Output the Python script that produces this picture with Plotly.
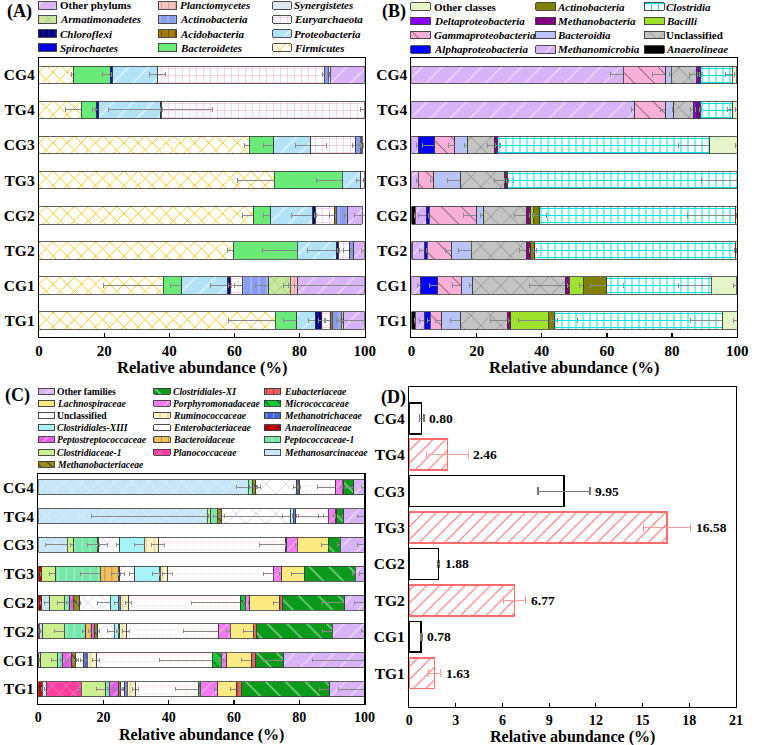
import plotly.graph_objects as go

W, H = 760, 745
FONT = "Liberation Serif"
CATS = ["TG1", "CG1", "TG2", "CG2", "TG3", "CG3", "TG4", "CG4"]

# ---------------- Panel A : phyla (order TG1, CG1, TG2, CG2, TG3, CG3, TG4, CG4)
a_firmicutes = [72.5, 38.2, 59.7, 66.0, 72.2, 64.5, 13.0, 10.6]
a_bacteroidetes = [6.7, 5.7, 19.6, 5.2, 20.9, 7.5, 4.8, 11.3]
a_spirochaetes = [0, 0, 0, 0, 0, 0, 0.5, 0.8]
a_proteobacteria = [5.6, 13.9, 12.0, 12.9, 5.5, 11.5, 19.0, 13.7]
a_chloroflexi = [2.0, 0.9, 0.6, 0.7, 0, 0, 0.3, 0]
a_euryarchaeota = [2.8, 3.8, 3.5, 6.0, 1.4, 13.8, 62.4, 51.2]
a_acidobacteria = [0.5, 0, 0, 0.4, 0, 0, 0, 0]
a_actinobacteria = [2.7, 8.0, 1.2, 3.6, 0, 1.3, 0, 1.2]
a_armatimonadetes = [0.8, 6.7, 0, 0, 0, 0, 0, 0]
a_planctomycetes = [0, 2.3, 0, 0, 0, 0, 0, 0]
a_synergistetes = [0, 0, 0, 0, 0, 0.3, 0, 0.6]
a_other = [6.4, 20.5, 3.4, 4.5, 0, 0.4, 0, 10.6]

a_firmicutes_sd = [14.3, 18.5, 1.9, 3.5, 11.2, 1.5, 5.0, 0.6]
a_bacteroidetes_sd = [4.0, 3.5, 10.8, 2.3, 8.0, 3.1, 1.5, 2.5]
a_spirochaetes_sd = [0, 0, 0, 0, 0, 0, 1.0, 0.3]
a_proteobacteria_sd = [2.0, 5.0, 9.0, 6.6, 1.0, 4.7, 16.0, 2.4]
a_chloroflexi_sd = [1.0, 0.5, 0.3, 0.3, 0, 0, 0.3, 0]
a_euryarchaeota_sd = [1.5, 2.5, 2.0, 1.5, 0.5, 1.0, 1.4, 0.5]
a_acidobacteria_sd = [0.3, 0, 0, 0.2, 0, 0, 0, 0]
a_actinobacteria_sd = [1.5, 4.0, 1.0, 1.0, 0, 0.5, 0, 0.3]
a_armatimonadetes_sd = [0.5, 2.0, 0, 0, 0, 0, 0, 0]
a_planctomycetes_sd = [0, 3.0, 0, 0, 0, 0, 0, 0]
a_synergistetes_sd = [0, 0, 0, 0, 0, 0.3, 0, 0.2]
a_other_sd = [8.0, 21.7, 1.0, 2.5, 0, 0.3, 0, 0]

# ---------------- Panel B : classes
b_anaerolineae = [1.1, 0, 0.3, 1.1, 0, 0, 0, 0]
b_methanomicrobia = [3.0, 2.8, 3.8, 3.5, 2.0, 2.1, 68.5, 65.0]
b_alphaproteobacteria = [1.7, 5.3, 0.7, 0.9, 0, 5.0, 0, 0]
b_gammaproteobacteria = [3.5, 7.4, 7.5, 14.6, 4.8, 6.2, 9.5, 13.0]
b_bacteroidia = [5.8, 3.3, 6.1, 2.1, 8.3, 3.9, 2.5, 1.7]
b_unclassified = [14.3, 28.4, 16.8, 13.0, 13.3, 8.2, 6.1, 7.7]
b_deltaproteobacteria = [0, 0, 0, 0, 0.5, 0, 1.0, 0.7]
b_methanobacteria = [1.0, 1.2, 1.4, 1.4, 0.5, 1.0, 1.0, 0.5]
b_bacilli = [11.6, 4.3, 0, 0.8, 0, 0, 0, 0]
b_actinobacteria = [1.9, 7.3, 1.3, 2.0, 0, 0, 0, 0]
b_clostridia = [51.7, 32.0, 61.7, 60.2, 70.6, 65.2, 10.0, 9.8]
b_other = [4.4, 7.9, 0.4, 0.4, 0, 8.4, 1.4, 1.4]

b_anaerolineae_sd = [0.3, 0, 0.1, 0.3, 0, 0, 0, 0]
b_methanomicrobia_sd = [1.5, 1.0, 1.5, 2.5, 0.5, 0.5, 1.0, 4.0]
b_alphaproteobacteria_sd = [1.0, 2.5, 0.3, 0.3, 0, 3.8, 0, 0]
b_gammaproteobacteria_sd = [2.0, 3.0, 2.0, 4.0, 1.0, 2.0, 1.5, 4.0]
b_bacteroidia_sd = [3.0, 1.0, 4.0, 1.0, 4.0, 1.0, 0.5, 0.5]
b_unclassified_sd = [5.0, 11.0, 2.0, 3.5, 3.0, 2.0, 1.0, 2.0]
b_deltaproteobacteria_sd = [0, 0, 0, 0, 0.3, 0, 0.3, 0.3]
b_methanobacteria_sd = [0.5, 0.5, 0.5, 0.5, 0.3, 0.5, 0.3, 0.3]
b_bacilli_sd = [9.0, 1.0, 0, 0.3, 0, 0, 0, 0]
b_actinobacteria_sd = [1.0, 5.0, 0.5, 2.0, 0, 0, 0, 0]
b_clostridia_sd = [10.0, 10.0, 0.5, 15.0, 11.0, 9.5, 1.5, 2.0]
b_other_sd = [1.0, 1.0, 0.2, 0.2, 0, 0.5, 0.5, 0.5]

# ---------------- Panel C : families
c_anaerolineaceae = [1.2, 0.2, 0.3, 1.0, 1.0, 0, 0, 0]
c_methanosarcinaceae = [1.3, 0.5, 1.0, 2.5, 0, 8.8, 51.8, 64.4]
c_planococcaceae = [10.7, 0, 0, 0, 0, 0, 0, 0]
c_clostridiaceae1 = [7.5, 5.3, 6.7, 4.5, 4.3, 2.0, 1.0, 0]
c_peptococcaceae1 = [1.0, 1.3, 6.5, 1.7, 13.7, 7.4, 2.0, 1.4]
c_bacteroidaceae = [0, 0, 1.8, 0, 5.5, 0, 0, 0]
c_peptostreptococcaceae = [3.0, 3.0, 1.0, 1.0, 0, 0, 0, 0]
c_methanobacteriaceae = [0.6, 1.0, 0.9, 1.8, 0.5, 0.4, 1.3, 0.8]
c_enterobacteriaceae = [1.2, 2.7, 5.1, 9.5, 4.6, 6.4, 21.3, 12.6]
c_clostridiales13 = [0, 0, 1.2, 2.5, 7.5, 7.5, 0.8, 0]
c_methanotrichaceae = [0.8, 1.0, 0.5, 0.7, 0.3, 0, 0.7, 0.5]
c_ruminococcaceae = [2.5, 2.7, 1.9, 2.4, 2.2, 4.3, 0, 0.5]
c_unclassified = [19.4, 35.6, 28.5, 34.5, 32.4, 39.0, 10.0, 11.0]
c_micrococcaceae = [0.5, 2.8, 0, 1.3, 0, 0.4, 0, 0]
c_porphyromonadaceae = [5.3, 1.7, 3.4, 1.4, 2.6, 3.2, 2.1, 2.0]
c_lachnospiraceae = [5.8, 7.5, 7.1, 9.3, 6.9, 9.5, 0, 0.5]
c_eubacteriaceae = [1.4, 1.3, 1.0, 0.7, 0, 0, 0.5, 0]
c_clostridiales11 = [27.1, 8.6, 23.2, 19.2, 15.7, 3.7, 2.2, 3.0]
c_other = [10.6, 24.8, 9.9, 6.0, 2.8, 7.3, 6.3, 3.3]

c_anaerolineaceae_sd = [0.2, 0.1, 0.1, 0.2, 0.2, 0, 0, 0]
c_methanosarcinaceae_sd = [0.5, 0.3, 0.5, 1.5, 0, 6.5, 35.5, 3.6]
c_planococcaceae_sd = [1.0, 0, 0, 0, 0, 0, 0, 0]
c_clostridiaceae1_sd = [3.0, 2.0, 3.0, 2.0, 2.0, 1.0, 0.5, 0]
c_peptococcaceae1_sd = [0.5, 0.5, 1.0, 1.0, 6.0, 3.0, 1.0, 1.0]
c_bacteroidaceae_sd = [0, 0, 1.0, 0, 2.0, 0, 0, 0]
c_peptostreptococcaceae_sd = [1.5, 2.0, 0.5, 0.5, 0, 0, 0, 0]
c_methanobacteriaceae_sd = [0.5, 0.5, 0.5, 0.5, 0.3, 0.3, 1.0, 0.5]
c_enterobacteriaceae_sd = [0.5, 1.0, 2.0, 4.0, 1.5, 1.0, 2.5, 1.0]
c_clostridiales13_sd = [0, 0, 0.5, 1.0, 2.0, 3.0, 0.3, 0]
c_methanotrichaceae_sd = [0.3, 0.5, 0.3, 0.3, 0.2, 0, 0.3, 0.3]
c_ruminococcaceae_sd = [1.0, 1.0, 1.0, 1.0, 1.5, 2.0, 0, 0.3]
c_unclassified_sd = [7.0, 16.0, 11.0, 15.0, 3.0, 8.0, 3.0, 5.5]
c_micrococcaceae_sd = [0.3, 1.0, 0, 0.5, 0, 0.3, 0, 0]
c_porphyromonadaceae_sd = [1.0, 1.0, 1.0, 0.5, 0.5, 0.5, 0.5, 0.5]
c_lachnospiraceae_sd = [2.0, 3.0, 3.0, 2.0, 4.0, 2.0, 0, 0.3]
c_eubacteriaceae_sd = [0.5, 0.5, 0.5, 0.3, 0, 0, 0.3, 0]
c_clostridiales11_sd = [3.0, 6.0, 3.0, 7.0, 1.0, 1.0, 0.5, 2.5]
c_other_sd = [8.0, 16.0, 1.0, 3.0, 1.5, 2.0, 2.0, 1.0]

# ---------------- Panel D
d_values = [1.63, 0.78, 6.77, 1.88, 16.58, 9.95, 2.46, 0.80]
d_sd = [0.39, 0.05, 0.72, 0.08, 1.50, 1.67, 1.33, 0.16]

# ---------------- series lists (stacking order)
A_SERIES = [
    ("Firmicutes", a_firmicutes, a_firmicutes_sd),
    ("Bacteroidetes", a_bacteroidetes, a_bacteroidetes_sd),
    ("Spirochaetes", a_spirochaetes, a_spirochaetes_sd),
    ("Proteobacteria", a_proteobacteria, a_proteobacteria_sd),
    ("Chloroflexi", a_chloroflexi, a_chloroflexi_sd),
    ("Euryarchaeota", a_euryarchaeota, a_euryarchaeota_sd),
    ("Acidobacteria", a_acidobacteria, a_acidobacteria_sd),
    ("Actinobacteria", a_actinobacteria, a_actinobacteria_sd),
    ("Armatimonadetes", a_armatimonadetes, a_armatimonadetes_sd),
    ("Planctomycetes", a_planctomycetes, a_planctomycetes_sd),
    ("Synergistetes", a_synergistetes, a_synergistetes_sd),
    ("Other phylums", a_other, a_other_sd),
]
B_SERIES = [
    ("Anaerolineae", b_anaerolineae, b_anaerolineae_sd),
    ("Methanomicrobia", b_methanomicrobia, b_methanomicrobia_sd),
    ("Alphaproteobacteria", b_alphaproteobacteria, b_alphaproteobacteria_sd),
    ("Gammaproteobacteria", b_gammaproteobacteria, b_gammaproteobacteria_sd),
    ("Bacteroidia", b_bacteroidia, b_bacteroidia_sd),
    ("Unclassified", b_unclassified, b_unclassified_sd),
    ("Deltaproteobacteria", b_deltaproteobacteria, b_deltaproteobacteria_sd),
    ("Methanobacteria", b_methanobacteria, b_methanobacteria_sd),
    ("Bacilli", b_bacilli, b_bacilli_sd),
    ("Actinobacteria", b_actinobacteria, b_actinobacteria_sd),
    ("Clostridia", b_clostridia, b_clostridia_sd),
    ("Other classes", b_other, b_other_sd),
]
C_SERIES = [
    ("Anaerolineaceae", c_anaerolineaceae, c_anaerolineaceae_sd),
    ("Methanosarcinaceae", c_methanosarcinaceae, c_methanosarcinaceae_sd),
    ("Planococcaceae", c_planococcaceae, c_planococcaceae_sd),
    ("Clostridiaceae-1", c_clostridiaceae1, c_clostridiaceae1_sd),
    ("Peptococcaceae-1", c_peptococcaceae1, c_peptococcaceae1_sd),
    ("Bacteroidaceae", c_bacteroidaceae, c_bacteroidaceae_sd),
    ("Peptostreptococcaceae", c_peptostreptococcaceae, c_peptostreptococcaceae_sd),
    ("Methanobacteriaceae", c_methanobacteriaceae, c_methanobacteriaceae_sd),
    ("Enterobacteriaceae", c_enterobacteriaceae, c_enterobacteriaceae_sd),
    ("Clostridiales-XIII", c_clostridiales13, c_clostridiales13_sd),
    ("Methanotrichaceae", c_methanotrichaceae, c_methanotrichaceae_sd),
    ("Ruminococcaceae", c_ruminococcaceae, c_ruminococcaceae_sd),
    ("Unclassified", c_unclassified, c_unclassified_sd),
    ("Micrococcaceae", c_micrococcaceae, c_micrococcaceae_sd),
    ("Porphyromonadaceae", c_porphyromonadaceae, c_porphyromonadaceae_sd),
    ("Lachnospiraceae", c_lachnospiraceae, c_lachnospiraceae_sd),
    ("Eubacteriaceae", c_eubacteriaceae, c_eubacteriaceae_sd),
    ("Clostridiales-XI", c_clostridiales11, c_clostridiales11_sd),
    ("Other families", c_other, c_other_sd),
]

# ---------------- styles: (bg, shape, fg, size, solidity)
CLEAR = "rgba(255,255,255,0)"
A_STYLE = {
    "Firmicutes": (CLEAR, "x", "#f5c000", 10, 0.17),
    "Bacteroidetes": ("#6aea78", "", None, 8, 0.2),
    "Spirochaetes": ("#0000e6", "x", "#0000a0", 8, 0.15),
    "Proteobacteria": ("#b2e2f6", "/", "#e6f6fd", 14, 0.1),
    "Chloroflexi": ("#00007a", "|", "#1a1aa0", 6, 0.2),
    "Euryarchaeota": (CLEAR, "+", "#f7a8cf", 7, 0.14),
    "Acidobacteria": ("#a67c00", "|", "#6a5000", 7, 0.15),
    "Actinobacteria": ("#8a9cf0", "|", "#b5c0f7", 8, 0.15),
    "Armatimonadetes": ("#c9e79f", "x", "#8cb85e", 9, 0.12),
    "Planctomycetes": ("#f6c4c0", "|", "#e79a9a", 7, 0.15),
    "Synergistetes": ("#dde8ef", "", None, 8, 0.2),
    "Other phylums": ("#d9b3f7", "/", "#eddcfb", 14, 0.1),
}
B_STYLE = {
    "Anaerolineae": ("#000000", "", None, 8, 0.2),
    "Methanomicrobia": ("#d9b3f7", "/", "#eddcfb", 14, 0.1),
    "Alphaproteobacteria": ("#0000ff", "", None, 8, 0.2),
    "Gammaproteobacteria": ("#f8b0d8", "\\", "#6a4a5a", 14, 0.07),
    "Bacteroidia": ("#b9c3f5", "", None, 8, 0.2),
    "Unclassified": ("#c4c4c4", "x", "#555555", 14, 0.06),
    "Deltaproteobacteria": ("#8a00ff", "", None, 8, 0.2),
    "Methanobacteria": ("#800080", "", None, 8, 0.2),
    "Bacilli": ("#9fe22e", "", None, 8, 0.2),
    "Actinobacteria": ("#808000", "", None, 8, 0.2),
    "Clostridia": (CLEAR, "+", "#00e1ec", 7, 0.28),
    "Other classes": ("#e6f5c7", "", None, 8, 0.2),
}
C_STYLE = {
    "Anaerolineaceae": ("#cc0000", "/", "#7a0000", 8, 0.15),
    "Methanosarcinaceae": ("#c6e6f7", "x", "#e6f4fc", 12, 0.1),
    "Planococcaceae": ("#ff3d9e", "x", "#ffa0d0", 10, 0.12),
    "Clostridiaceae-1": ("#ccf08f", "", None, 8, 0.2),
    "Peptococcaceae-1": ("#78e6a8", "|", "#a8f2c8", 8, 0.15),
    "Bacteroidaceae": ("#f0c060", "|", "#c39230", 7, 0.15),
    "Peptostreptococcaceae": ("#e35fe9", "/", "#f0a4f3", 10, 0.12),
    "Methanobacteriaceae": ("#9c8a1c", "\\", "#4e4400", 8, 0.15),
    "Enterobacteriaceae": (CLEAR, "x", "#b4acdc", 14, 0.08),
    "Clostridiales-XIII": ("#a7f3f7", "", None, 8, 0.2),
    "Methanotrichaceae": ("#4466dd", "|", "#8c9cee", 7, 0.15),
    "Ruminococcaceae": ("#fdf3c6", "|", "#d6c68c", 8, 0.12),
    "Unclassified": (CLEAR, "+", "#f8c6c6", 8, 0.1),
    "Micrococcaceae": ("#12cc33", "\\", "#006a10", 9, 0.15),
    "Porphyromonadaceae": ("#f27af2", "/", "#f8b0f8", 10, 0.12),
    "Lachnospiraceae": ("#fbe981", "", None, 8, 0.2),
    "Eubacteriaceae": ("#f26262", "|", "#c23030", 7, 0.15),
    "Clostridiales-XI": ("#0c9a1c", "\\", "#8ad896", 14, 0.1),
    "Other families": ("#d9b3f7", "/", "#eddcfb", 14, 0.1),
}

# ---------------- legend grids (row-major, 3 columns)
A_LEG = [["Other phylums", "Planctomycetes", "Synergistetes"],
         ["Armatimonadetes", "Actinobacteria", "Euryarchaeota"],
         ["Chloroflexi", "Acidobacteria", "Proteobacteria"],
         ["Spirochaetes", "Bacteroidetes", "Firmicutes"]]
B_LEG = [["Other classes", "Actinobacteria", "Clostridia"],
         ["Deltaproteobacteria", "Methanobacteria", "Bacilli"],
         ["Gammaproteobacteria", "Bacteroidia", "Unclassified"],
         ["Alphaproteobacteria", "Methanomicrobia", "Anaerolineae"]]
C_LEG = [["Other families", "Clostridiales-XI", "Eubacteriaceae"],
         ["Lachnospiraceae", "Porphyromonadaceae", "Micrococcaceae"],
         ["Unclassified", "Ruminococcaceae", "Methanotrichaceae"],
         ["Clostridiales-XIII", "Enterobacteriaceae", "Anaerolineaceae"],
         ["Peptostreptococcaceae", "Bacteroidaceae", "Peptococcaceae-1"],
         ["Clostridiaceae-1", "Planococcaceae", "Methanosarcinaceae"],
         ["Methanobacteriaceae", None, None]]
PLAIN = {"Other phylums", "Other classes", "Other families", "Unclassified"}


def marker_of(style, lw=0.8):
    bg, shape, fg, size, sol = style
    m = dict(color=bg if bg != CLEAR else "white", line=dict(color="#3a3a3a", width=lw))
    if shape:
        m["color"] = "white" if bg == CLEAR else bg
        m["pattern"] = dict(shape=shape, bgcolor=bg, fgcolor=fg, size=size,
                            solidity=sol, fillmode="replace")
    return m


fig = go.Figure()


def add_stack(series, style, xa, ya, width, capw):
    for name, vals, sds in series:
        xs = [v if v else None for v in vals]
        es = [s if v else None for v, s in zip(vals, sds)]
        fig.add_trace(go.Bar(
            y=CATS, x=xs, orientation="h", name=name, width=width,
            marker=marker_of(style[name]), xaxis=xa, yaxis=ya,
            error_x=dict(type="data", array=es, symmetric=True, color="#8a8a8a",
                         thickness=1, width=capw),
            showlegend=False, hoverinfo="skip"))


add_stack(A_SERIES, A_STYLE, "x", "y", 0.5, 2.5)
add_stack(B_SERIES, B_STYLE, "x2", "y2", 0.5, 2.5)
add_stack(C_SERIES, C_STYLE, "x3", "y3", 0.52, 2)

# Panel D
tg_idx = [i for i, c in enumerate(CATS) if c.startswith("TG")]
cg_idx = [i for i, c in enumerate(CATS) if c.startswith("CG")]
fig.add_trace(go.Bar(
    y=[CATS[i] for i in tg_idx], x=[d_values[i] for i in tg_idx], orientation="h",
    width=0.85, xaxis="x4", yaxis="y4", showlegend=False, hoverinfo="skip",
    marker=dict(color="white", line=dict(color="#ff6b6b", width=1.6),
                pattern=dict(shape="/", bgcolor="white", fgcolor="#ff6b6b",
                             size=9, solidity=0.12, fillmode="replace")),
    error_x=dict(type="data", array=[d_sd[i] for i in tg_idx], color="#ff9c9c",
                 thickness=1.2, width=4)))
fig.add_trace(go.Bar(
    y=[CATS[i] for i in cg_idx], x=[d_values[i] for i in cg_idx], orientation="h",
    width=0.85, xaxis="x4", yaxis="y4", showlegend=False, hoverinfo="skip",
    marker=dict(color="white", line=dict(color="black", width=1.6)),
    error_x=dict(type="data", array=[d_sd[i] for i in cg_idx], color="#777777",
                 thickness=1.2, width=4)))

annotations = []
for c, v, s in zip(CATS, d_values, d_sd):
    annotations.append(dict(
        x=v + s, y=c, xref="x4", yref="y4", text="%.2f" % v, showarrow=False,
        xanchor="left", yanchor="middle", xshift=3,
        font=dict(family=FONT, size=13.5, color="black", weight="bold")))

# ---------------- manual legends (swatches drawn as bars on a pixel overlay axis)


def add_legend(grid, style, colx, textx, row0, dy, sw_w, sw_h, fsize):
    for r, row in enumerate(grid):
        for k, name in enumerate(row):
            if name is None:
                continue
            yc = row0 + r * dy
            fig.add_trace(go.Bar(
                y=[yc + k * 0.001], x=[sw_w], base=[colx[k]], orientation="h",
                width=sw_h, marker=marker_of(style[name], 0.9), xaxis="x5", yaxis="y5",
                showlegend=False, hoverinfo="skip"))
            annotations.append(dict(
                x=textx[k], y=yc, xref="x5", yref="y5", text=name, showarrow=False,
                xanchor="left", yanchor="middle",
                font=dict(family=FONT, size=fsize, color="black", weight="bold",
                          style="normal" if name in PLAIN else "italic")))


add_legend(A_LEG, A_STYLE, [35, 157.3, 274], [55.5, 178, 294], 5.3, 14.1, 19, 7.5, 11)
add_legend(B_LEG, B_STYLE, [415, 542.7, 653.3], [436.5, 562.5, 673.5], 6.7, 14.2, 20, 7.5, 11)
add_legend(C_LEG, C_STYLE, [35, 152.7, 265.7], [52.5, 170.5, 284], 391, 12.2, 16.7, 6, 9.6)

# panel labels and axis titles
for txt, x, y in [("(A)", 16, 11), ("(B)", 397.5, 11), ("(C)", 14, 395), ("(D)", 397.5, 397)]:
    annotations.append(dict(x=x, y=y, xref="x5", yref="y5", text=txt, showarrow=False,
                            xanchor="center", yanchor="middle",
                            font=dict(family=FONT, size=18, color="black", weight="bold")))
for x, y, fs in [(202, 367, 16.5), (582, 367, 16.5), (201, 735, 16), (580, 736.5, 16)]:
    annotations.append(dict(x=x, y=y, xref="x5", yref="y5", text="Relative abundance (%)",
                            showarrow=False, xanchor="center", yanchor="middle",
                            font=dict(family=FONT, size=fs, color="black", weight="bold")))


def dx(a, b):
    return [a / W, b / W]


def dy(top, bottom):
    return [1 - bottom / H, 1 - top / H]


tickf = dict(family=FONT, size=15, color="black", weight="bold")
tickf_small = dict(family=FONT, size=14, color="black", weight="bold")
xcommon = dict(showline=True, linecolor="black", linewidth=1.2, mirror=True, ticks="inside",
               ticklen=4, tickwidth=1.2, tickcolor="black", showgrid=False, zeroline=False,
               tickfont=tickf, fixedrange=True)
ycommon = dict(type="category", categoryorder="array", categoryarray=CATS, showline=True,
               linecolor="black", linewidth=1.2, mirror=True, ticks="", showgrid=False,
               zeroline=False, tickfont=dict(family=FONT, size=15.5, color="black", weight="bold"),
               fixedrange=True)

fig.update_layout(
    width=W, height=H, margin=dict(l=0, r=0, t=0, b=0),
    paper_bgcolor="white", plot_bgcolor="rgba(0,0,0,0)",
    barmode="stack", showlegend=False,
    xaxis=dict(xcommon, domain=dx(35.7, 368), range=[0, 100], tickvals=[0, 20, 40, 60, 80, 100], anchor="y"),
    yaxis=dict(ycommon, domain=dy(58, 337), range=[-0.47, 7.48], anchor="x"),
    xaxis2=dict(xcommon, domain=dx(415.7, 748), range=[0, 100], tickvals=[0, 20, 40, 60, 80, 100], anchor="y2"),
    yaxis2=dict(ycommon, domain=dy(58, 337), range=[-0.47, 7.48], anchor="x2"),
    xaxis3=dict(xcommon, domain=dx(35, 367.7), range=[0, 100], tickvals=[0, 20, 40, 60, 80, 100],
                anchor="y3", tickfont=tickf_small),
    yaxis3=dict(ycommon, domain=dy(474, 704), range=[-0.52, 7.46], anchor="x3"),
    xaxis4=dict(xcommon, domain=dx(413.3, 746.7), range=[0, 21], tickvals=[0, 3, 6, 9, 12, 15, 18, 21],
                anchor="y4", tickfont=tickf_small),
    yaxis4=dict(ycommon, domain=dy(387, 706.7), range=[-0.92, 7.86], anchor="x4"),
    xaxis5=dict(domain=[0, 1], range=[0, W], visible=False, fixedrange=True, anchor="y5"),
    yaxis5=dict(domain=[0, 1], range=[H, 0], visible=False, fixedrange=True, anchor="x5"),
    annotations=annotations,
)

fig.write_html("out.html", config={"displayModeBar": False, "staticPlot": True},
               post_script="document.body.style.margin='0';document.body.style.overflow='hidden';")
